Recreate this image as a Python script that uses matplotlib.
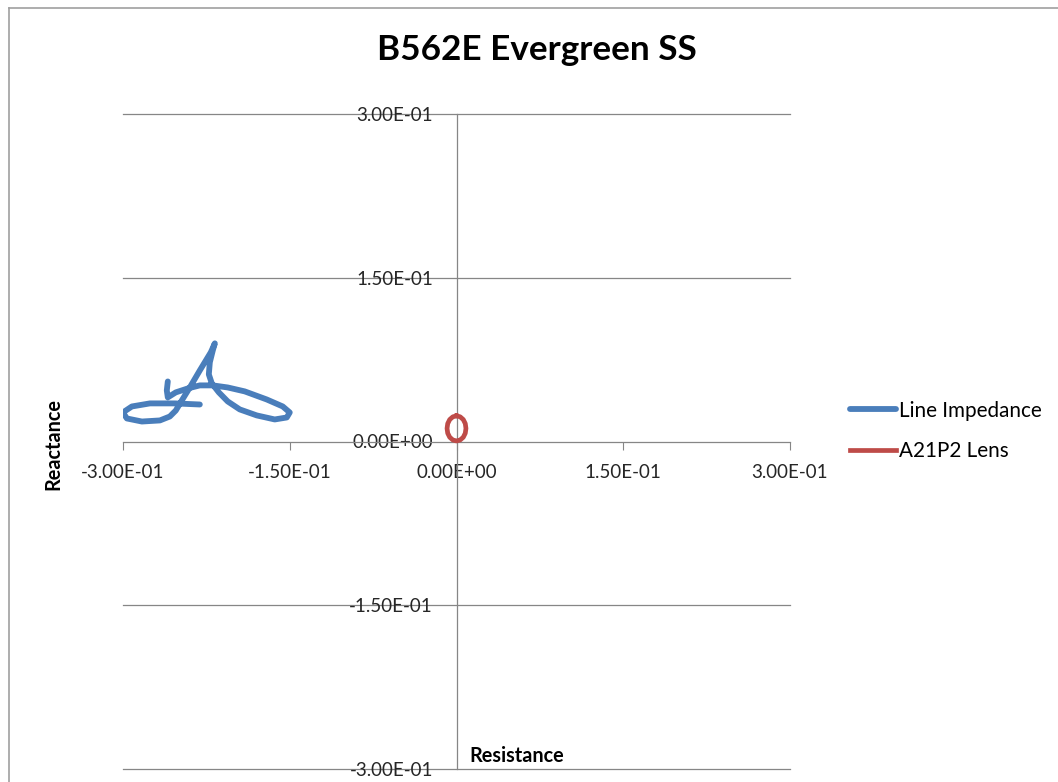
import matplotlib.pyplot as plt
from matplotlib.lines import Line2D

# Line Impedance trajectory (R, X)
imp_r = [-0.2597, -0.2606, -0.2597, -0.2525, -0.2417, -0.2309, -0.2192, -0.2058,
         -0.1905, -0.1707, -0.1563, -0.1500, -0.1527, -0.1635, -0.1797, -0.1950,
         -0.2058, -0.2138, -0.2201, -0.2228, -0.2219, -0.2192, -0.2174, -0.2210,
         -0.2309, -0.2399, -0.2471, -0.2525, -0.2579, -0.2668, -0.2830, -0.2965,
         -0.3001, -0.2920, -0.2758, -0.2534, -0.2309]
imp_x = [0.0550, 0.0468, 0.0404, 0.0450, 0.0486, 0.0514, 0.0514, 0.0495,
         0.0459, 0.0385, 0.0321, 0.0266, 0.0220, 0.0202, 0.0239, 0.0294,
         0.0367, 0.0450, 0.0532, 0.0615, 0.0725, 0.0835, 0.0899, 0.0817,
         0.0651, 0.0495, 0.0376, 0.0284, 0.0229, 0.0193, 0.0183, 0.0211,
         0.0266, 0.0321, 0.0349, 0.0349, 0.0339]

# A21P2 lens characteristic (R, X)
lens_r = [0.0, 0.0033, 0.0061, 0.0079, 0.0085, 0.0079, 0.0061, 0.0033,
          0.0, -0.0033, -0.0061, -0.0079, -0.0085, -0.0079, -0.0061, -0.0033, 0.0]
lens_x = [0.0235, 0.0226, 0.0201, 0.0164, 0.0120, 0.0076, 0.0039, 0.0014,
          0.0005, 0.0014, 0.0039, 0.0076, 0.0120, 0.0164, 0.0201, 0.0226, 0.0235]

ticks = [-0.3, -0.15, 0.0, 0.15, 0.3]
tick_labels = ['-3.00E-01', '-1.50E-01', '0.00E+00', '1.50E-01', '3.00E-01']

plt.rcParams['font.family'] = ['Lato', 'DejaVu Sans']
W, H = 1058, 782
fig = plt.figure(figsize=(W / 100, H / 100), dpi=100)
ax = fig.add_axes([123 / W, 1 - 769 / H, (790 - 123) / W, (769 - 114) / H])

grey = '#868686'
ax.set_xlim(-0.3, 0.3)
ax.set_ylim(-0.3, 0.3)

# horizontal gridlines
for t in ticks:
    if t != 0:
        ax.axhline(t, color=grey, lw=0.9, zorder=1, clip_on=False)

ax.spines['top'].set_visible(False)
ax.spines['right'].set_visible(False)
ax.spines['left'].set_position('zero')
ax.spines['bottom'].set_position('zero')
for s in ('left', 'bottom'):
    ax.spines[s].set_color(grey)
    ax.spines[s].set_linewidth(0.9)

ax.set_xticks(ticks)
ax.set_xticklabels(tick_labels)
ax.set_yticks(ticks)
ax.set_yticklabels(tick_labels)
ax.tick_params(axis='x', direction='out', length=5.5, color=grey, pad=11,
               labelsize=13.5, labelcolor='#262626')
ax.tick_params(axis='y', length=0, pad=17, labelsize=13.5, labelcolor='#262626')

ax.plot(imp_r, imp_x, color='#4A7EBB', lw=4.2, solid_capstyle='round',
        solid_joinstyle='round', label='Line Impedance', zorder=3)
ax.plot(lens_r, lens_x, color='#BE4B48', lw=3.4, solid_joinstyle='round',
        label='A21P2 Lens', zorder=3)

fig.text(537 / W, 1 - 50 / H, 'B562E Evergreen SS', ha='center', va='center',
         fontsize=25.3, fontweight='bold')
fig.text(53 / W, 1 - 444 / H, 'Reactance', rotation=90, ha='center', va='center',
         fontsize=14.3, fontweight='bold')
fig.text(517 / W, 1 - 756 / H, 'Resistance', ha='center', va='center',
         fontsize=14.3, fontweight='bold')

ax.legend(loc='center left', bbox_to_anchor=(850 / W, 1 - 431 / H),
          bbox_transform=fig.transFigure, frameon=False, fontsize=14.9,
          handlelength=2.2, handletextpad=0.15, labelspacing=1.0, borderpad=0,
          borderaxespad=0)

# chart area border (left and top edges visible)
fig.add_artist(Line2D([9 / W, 9 / W], [0, 1 - 8 / H], color='#a0a0a0', lw=1.2,
                      transform=fig.transFigure))
fig.add_artist(Line2D([9 / W, 1], [1 - 8 / H, 1 - 8 / H], color='#a0a0a0', lw=1.2,
                      transform=fig.transFigure))

fig.savefig('out.png', dpi=100)
